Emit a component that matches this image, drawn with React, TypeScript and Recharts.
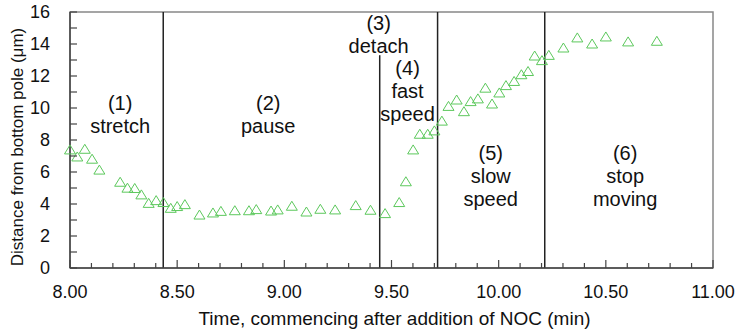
import React from "react";
import {
  ScatterChart,
  Scatter,
  XAxis,
  YAxis,
  ReferenceLine,
  ReferenceArea,
} from "recharts";

// time after NOC (min) and distance from bottom pole (um)
const times = [
  8.0, 8.034, 8.069, 8.103, 8.137, 8.234, 8.268, 8.302, 8.333, 8.367, 8.402,
  8.436, 8.47, 8.5, 8.536, 8.604, 8.667, 8.704, 8.769, 8.835, 8.869, 8.938,
  8.969, 9.035, 9.103, 9.168, 9.237, 9.333, 9.402, 9.47, 9.536, 9.567, 9.601,
  9.632, 9.669, 9.7, 9.735, 9.766, 9.804, 9.838, 9.869, 9.903, 9.938, 9.969,
  10.003, 10.034, 10.072, 10.106, 10.137, 10.168, 10.202, 10.234, 10.302,
  10.367, 10.436, 10.5, 10.604, 10.738,
];
const distances = [
  7.38, 6.94, 7.42, 6.8, 6.12, 5.36, 4.99, 4.97, 4.57, 4.04, 4.21, 4.09, 3.73,
  3.84, 3.96, 3.31, 3.44, 3.54, 3.58, 3.58, 3.65, 3.56, 3.63, 3.86, 3.5, 3.67,
  3.63, 3.9, 3.61, 3.4, 4.09, 5.39, 7.38, 8.36, 8.36, 8.57, 9.18, 10.1, 10.5,
  9.77, 10.4, 10.57, 11.24, 10.25, 10.94, 11.4, 11.66, 12.08, 12.28, 13.25,
  12.96, 13.29, 13.75, 14.38, 14.0, 14.44, 14.13, 14.17,
];

// phase boundaries (min)
const boundaries = [8.435, 9.715, 10.215];
const detachTime = 9.445;
const detachTop = 13.3;

// phase labels: anchor time, distance of first line, text lines
const phaseTimes = [8.234, 8.925, 9.44, 9.575, 9.963, 10.59];
const phaseTops = [9.85, 9.85, 14.87, 12.05, 6.78, 6.78];
const phaseLines = [
  ["(1)", "stretch"],
  ["(2)", "pause"],
  ["(3)", "detach"],
  ["(4)", "fast", "speed"],
  ["(5)", "slow", "speed"],
  ["(6)", "stop", "moving"],
];

const xTicks = Array.from({ length: 31 }, (_, i) => Math.round((8 + i * 0.1) * 10) / 10);
const yTicks = Array.from({ length: 17 }, (_, i) => i);

const points = times.map((t, i) => ({ t, d: distances[i] }));
const phases = phaseTimes.map((t, i) => ({ t, d: phaseTops[i], lines: phaseLines[i] }));

const FONT = "'Liberation Sans', Arial, Helvetica, sans-serif";
const GREEN = "#5cc85c";

const Triangle = (props: any) => {
  const { cx, cy } = props;
  return (
    <path
      d={`M${cx},${cy - 5} L${cx + 5.5},${cy + 4} L${cx - 5.5},${cy + 4} Z`}
      fill="none"
      stroke={GREEN}
      strokeWidth={1}
    />
  );
};

const PhaseText = (props: any) => {
  const { cx, cy, payload } = props;
  return (
    <text x={cx} textAnchor="middle" fontSize={20} fill="#111" fontFamily={FONT}>
      {payload.lines.map((l: string, i: number) => (
        <tspan key={i} x={cx} y={cy + i * 23}>
          {l}
        </tspan>
      ))}
    </text>
  );
};

const XTick = (props: any) => {
  const { x, y, payload } = props;
  const v = payload.value;
  const major = Math.abs(v * 2 - Math.round(v * 2)) < 1e-6;
  return (
    <g>
      <line x1={x} x2={x} y1={y} y2={y - (major ? 8 : 5)} stroke="#444" strokeWidth={1.2} />
      {major && (
        <text x={x} y={y + 30} textAnchor="middle" fontSize={18} fill="#111" fontFamily={FONT}>
          {v.toFixed(2)}
        </text>
      )}
    </g>
  );
};

const YTick = (props: any) => {
  const { x, y, payload } = props;
  const v = payload.value;
  return (
    <g>
      <line x1={x} x2={x + 7} y1={y} y2={y} stroke="#444" strokeWidth={1.2} />
      {v % 2 === 0 && (
        <text x={x - 20} y={y} dy="0.36em" textAnchor="end" fontSize={18} fill="#111" fontFamily={FONT}>
          {v}
        </text>
      )}
    </g>
  );
};

export default function App() {
  return (
    <div style={{ position: "absolute", left: 0, top: 0, background: "#fff", fontFamily: FONT }}>
      <ScatterChart width={736} height={330} margin={{ top: 12, right: 23, bottom: 0, left: 0 }}>
        <ReferenceArea x1={8} x2={11} y1={0} y2={16} fill="none" stroke="#888" strokeWidth={1.5} />
        <XAxis
          type="number"
          dataKey="t"
          domain={[8, 11]}
          ticks={xTicks}
          interval={0}
          height={62}
          tickSize={0}
          tickMargin={0}
          tickLine={false}
          axisLine={{ stroke: "#444", strokeWidth: 1.5 }}
          tick={(p: any) => <XTick {...p} />}
          label={{
            content: (lp: any) => {
              const vb = lp.viewBox;
              return (
                <text
                  x={vb.x + vb.width / 2 + 3}
                  y={vb.y + 57}
                  textAnchor="middle"
                  fontSize={19}
                  fill="#111"
                  fontFamily={FONT}
                >
                  Time, commencing after addition of NOC (min)
                </text>
              );
            },
          }}
        />
        <YAxis
          type="number"
          dataKey="d"
          domain={[0, 16]}
          ticks={yTicks}
          interval={0}
          width={70}
          tickSize={0}
          tickMargin={0}
          tickLine={false}
          axisLine={{ stroke: "#444", strokeWidth: 1.5 }}
          tick={(p: any) => <YTick {...p} />}
          label={{
            content: (lp: any) => {
              const vb = lp.viewBox;
              const cx = vb.x + 17;
              const cy = vb.y + vb.height / 2 + 7;
              return (
                <text
                  x={cx}
                  y={cy}
                  transform={`rotate(-90 ${cx} ${cy})`}
                  textAnchor="middle"
                  dominantBaseline="central"
                  fontSize={17}
                  fill="#111"
                  fontFamily={FONT}
                >
                  Distance from bottom pole (μm)
                </text>
              );
            },
          }}
        />
        {boundaries.map((b) => (
          <ReferenceLine key={b} x={b} stroke="#222" strokeWidth={1.5} />
        ))}
        <ReferenceLine
          segment={[
            { x: detachTime, y: 0 },
            { x: detachTime, y: detachTop },
          ]}
          stroke="#222"
          strokeWidth={1.5}
        />
        <Scatter data={points} shape={Triangle} isAnimationActive={false} />
        <Scatter data={phases} shape={PhaseText} isAnimationActive={false} />
      </ScatterChart>
    </div>
  );
}
